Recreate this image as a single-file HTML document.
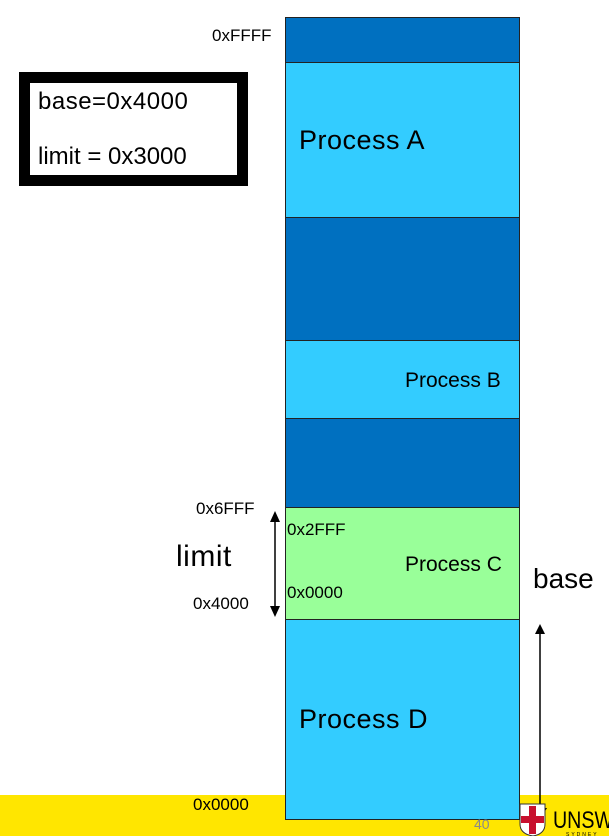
<!DOCTYPE html>
<html><head><style>
body{margin:0;width:609px;height:836px;position:relative;overflow:hidden;background:#fff;font-family:"Liberation Sans",sans-serif;}
div{position:absolute;box-sizing:border-box;}
.t{white-space:nowrap;color:#000;line-height:1;}
.seg{left:285px;width:235px;border:1.5px solid #222;}
.s{font-size:17px;}
</style></head><body>
<div style="left:0;top:795px;width:609px;height:41px;background:#ffe600"></div>
<div class="seg" style="top:17px;height:46px;background:#0070c0"></div>
<div class="seg" style="top:62px;height:156px;background:#33ccff"></div>
<div class="seg" style="top:217px;height:124px;background:#0070c0"></div>
<div class="seg" style="top:340px;height:79px;background:#33ccff"></div>
<div class="seg" style="top:418px;height:90px;background:#0070c0"></div>
<div class="seg" style="top:507px;height:113px;background:#99ff99"></div>
<div class="seg" style="top:619px;height:201px;background:#33ccff"></div>
<div style="left:19px;top:72px;width:229px;height:114px;border:11px solid #000;background:#fff"></div>
<div class="t" style="left:38px;top:90px;font-size:24px;letter-spacing:0.5px">base=0x4000</div>
<div class="t" style="left:38px;top:145px;font-size:24px">limit = 0x3000</div>
<div class="t s" style="left:212px;top:27px">0xFFFF</div>
<div class="t" style="left:299px;top:127px;font-size:27px;letter-spacing:0.5px">Process A</div>
<div class="t" style="left:405px;top:370px;font-size:21px">Process B</div>
<div class="t" style="left:405px;top:554px;font-size:21px">Process C</div>
<div class="t s" style="left:287px;top:521px">0x2FFF</div>
<div class="t s" style="left:287px;top:584px">0x0000</div>
<div class="t" style="left:299px;top:706px;font-size:27px;letter-spacing:0.5px">Process D</div>
<div class="t s" style="left:196px;top:500px">0x6FFF</div>
<div class="t s" style="left:193px;top:595px">0x4000</div>
<div class="t s" style="left:193px;top:796px">0x0000</div>
<div class="t" style="left:176px;top:542px;font-size:30px;letter-spacing:0.5px">limit</div>
<div class="t" style="left:533px;top:565px;font-size:28px">base</div>
<div class="t" style="left:474px;top:817px;font-size:14px;color:#8a8a8a">40</div>
<svg style="position:absolute;left:0;top:0" width="609" height="836">
<line x1="275" y1="520" x2="275" y2="608" stroke="#000" stroke-width="1.5"/>
<polygon points="270,522 280,522 275,511" fill="#000"/>
<polygon points="270,606 280,606 275,617" fill="#000"/>
<line x1="540" y1="632" x2="540" y2="812" stroke="#000" stroke-width="1.5"/>
<polygon points="535,634 545,634 540,624" fill="#000"/>
<polygon points="533,808 547,808 540,820" fill="#000"/>
<path d="M520,804 h25 v20 q0,10 -12,12 q-13,-2 -13,-12 z" fill="#fff" stroke="#333" stroke-width="1"/>
<rect x="529" y="806" width="7" height="28" fill="#c8102e"/>
<rect x="521" y="816" width="23" height="7" fill="#c8102e"/>
<text x="553" y="828" font-family="Liberation Sans,sans-serif" font-size="24" fill="#000" textLength="60" lengthAdjust="spacingAndGlyphs">UNSW</text>
<text x="566" y="836" font-family="Liberation Sans,sans-serif" font-size="5" fill="#000" letter-spacing="2">SYDNEY</text>
</svg>
</body></html>
